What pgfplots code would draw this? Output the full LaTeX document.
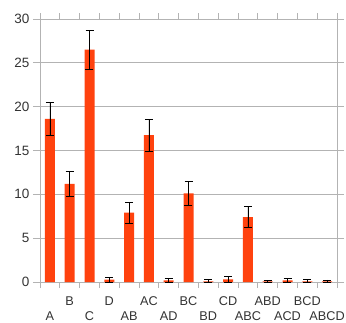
\documentclass[border=0pt]{standalone}
\usepackage{pgfplots}
\pgfplotsset{compat=1.18}
\usepackage{fontspec}
\setmainfont{Liberation Sans}
\definecolor{barc}{HTML}{FF420E}
\definecolor{gridc}{HTML}{B3B3B3}
\definecolor{txt}{HTML}{333333}
\pgfplotstableread{
x y e
0 18.6 1.9
1 11.2 1.45
2 26.5 2.2
3 0.27 0.3
4 7.9 1.2
5 16.75 1.8
6 0.19 0.22
7 10.1 1.4
8 0.08 0.18
9 0.3 0.3
10 7.4 1.2
11 0.06 0.15
12 0.19 0.22
13 0.08 0.17
14 0.08 0.15
}\datatable
\begin{document}
\begin{tikzpicture}
\begin{axis}[
  at={(0,0)}, anchor=south west,
  scale only axis, width=297pt, height=263pt,
  xmin=-0.5, xmax=14.5, ymin=0, ymax=30,
  ytick={0,5,...,30},
  ymajorgrids, grid style={gridc, line width=0.8pt},
  axis line style={gridc, line width=0.8pt},
  tick align=outside,
  major tick length=7pt,
  minor tick length=6pt,
  y tick style={gridc, line width=0.8pt},
  x tick style={draw=none},
  minor x tick style={draw=gridc, line width=0.8pt},
  xtick={0,2,...,14},
  xticklabels={A,C,AB,AD,BD,ABC,ACD,ABCD},
  minor xtick={-0.5,0.5,...,14.5},
  extra x ticks={1,3,...,13},
  extra x tick labels={B,D,AC,BC,CD,ABD,BCD},
  extra x tick style={xticklabel style={yshift=15.5pt}},
  xticklabel style={anchor=center, yshift=-27.5pt, font=\fontsize{12.7}{15}\selectfont},
  yticklabel style={font=\fontsize{13.5}{15}\selectfont},
  tick label style={text=txt},
  /pgf/number format/assume math mode=true,
  ybar, bar width=10pt,
]
\addplot[fill=barc, draw=none,
  error bars/.cd, y dir=both, y explicit,
  error bar style={black, line width=0.8pt},
  error mark options={rotate=90, mark size=4pt, black, line width=0.8pt}]
  table[x=x, y=y, y error=e] {\datatable};
\end{axis}
\pgfresetboundingbox
\path[use as bounding box] (-40pt,-40pt) rectangle (306pt,282pt);
\end{tikzpicture}
\end{document}
